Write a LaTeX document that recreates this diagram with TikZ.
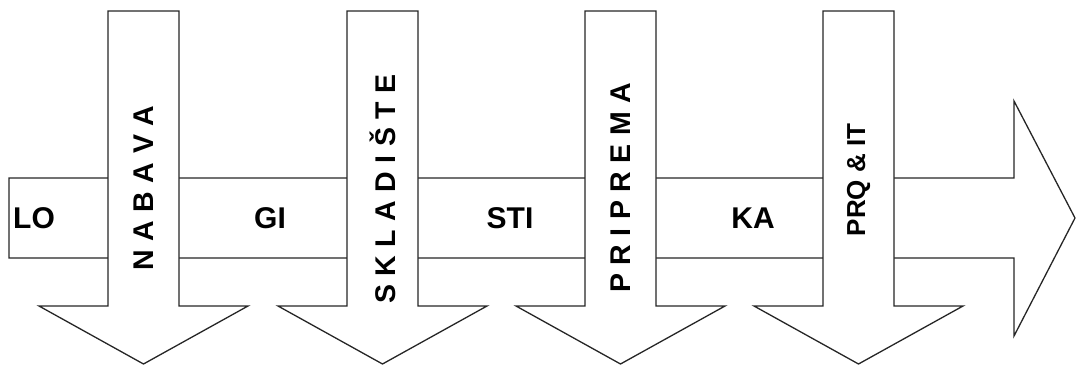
\documentclass[tikz,border=0pt]{standalone}
\usepackage{fontspec}
\setmainfont{Liberation Sans}
\newcommand\gp{\hspace{8.5pt}}
\tikzset{
  shapeline/.style={draw=black!85, line width=1.3pt, fill=white, line join=miter},
  hlabel/.style={font=\bfseries\fontsize{30}{30}\selectfont, inner sep=0pt, anchor=center},
  vlabel/.style={font=\bfseries\fontsize{28.5}{28.5}\selectfont, inner sep=0pt, anchor=center, rotate=90}
}
\begin{document}
\begin{tikzpicture}[x=1pt,y=-1pt]
\useasboundingbox (0,0) rectangle (1076,367);
% horizontal band with the big right arrow
\draw[shapeline] (9,178) -- (1014,178) -- (1014,101) -- (1075,218) -- (1014,336) -- (1014,258) -- (9,258) -- cycle;
% vertical arrows
\foreach \a in {108,347,585,823}{
  \draw[shapeline] (\a,11) -- ({\a+71},11) -- ({\a+71},306) -- ({\a+140},306) -- ({\a+35.5},364)
     -- ({\a-69},306) -- (\a,306) -- cycle;
}
% horizontal labels
\node[hlabel] (lo) at (34,218) {LO};
\node[hlabel] (gi) at (270,218) {GI};
\node[hlabel] (sti) at (510,218) {STI};
\node[hlabel] (ka) at (753,218) {KA};
% vertical labels
\node[vlabel] (nabava) at (143.5,188) {N\gp A\gp B\gp A\gp V\gp A};
\node[vlabel] (skladiste) at (382.5,189) {S\gp K\gp L\gp A\gp D\gp I\gp Š\gp T\gp E};
\node[vlabel] (priprema) at (620.5,188) {P\gp R\gp I\gp P\gp R\gp E\gp M\gp A};
\node[vlabel] (prqit) at (858.5,180) {\fontsize{26}{26}\selectfont PRQ \& IT};
\end{tikzpicture}
\end{document}
